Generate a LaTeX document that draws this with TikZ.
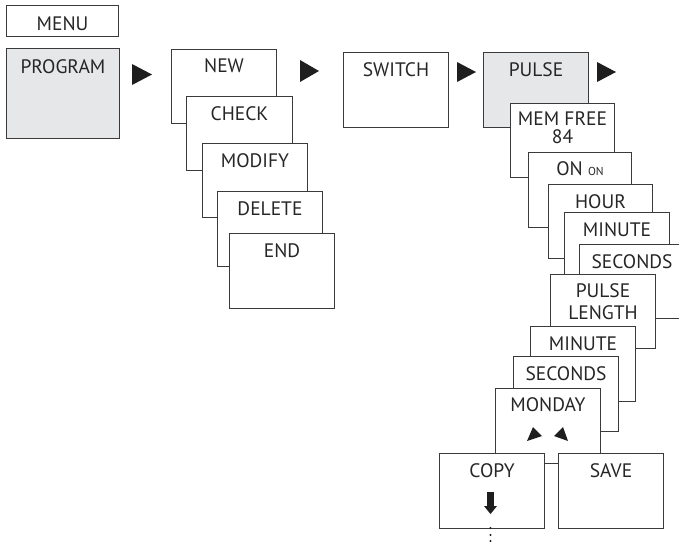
\documentclass[tikz,border=0pt]{standalone}
\usepackage{fontspec}
\setmainfont{PT Sans}
\definecolor{linec}{HTML}{3A3A3A}
\definecolor{grayfill}{HTML}{E6E7E8}
\definecolor{markc}{HTML}{1E1E1E}
\begin{document}
\begin{tikzpicture}[x=1pt,y=-1pt,
  box/.style={draw=linec, line width=1pt, fill=white, anchor=north west, inner sep=0pt,
    minimum width=105pt, minimum height=75pt},
  graybox/.style={box, fill=grayfill},
  lbl/.style={anchor=base, inner sep=0pt, font=\fontsize{19.5}{21}\selectfont, text=black!85},
  markfill/.style={fill=markc, draw=none}]
\useasboundingbox (0,0) rectangle (679,542);
\clip (0,0) rectangle (679,542);
% left column
\node[box, minimum width=112pt, minimum height=31pt] (menu) at (6,5) {};
\node[lbl] (menu-t) at ([yshift=-25pt]menu.north) {MENU};
\node[graybox, minimum width=113pt, minimum height=90pt] (program) at (6,48) {};
\node[lbl] (program-t) at ([yshift=-25pt]program.north) {PROGRAM};
% arrow 1
\coordinate (t1) at (132,64);
\fill[markfill] (t1) -- ++(20,10.5) -- ++(-20,10.5) -- cycle;
% stack 1
\node[box, minimum height=74pt] (new) at (171,49) {};
\node[lbl] (new-t) at ([yshift=-23.5pt]new.north) {NEW};
\node[box, minimum width=106pt, minimum height=74pt] (check) at (186,96) {};
\node[lbl] (check-t) at ([yshift=-24pt]check.north) {CHECK};
\node[box, minimum height=74pt] (modify) at (202,143) {};
\node[lbl] (modify-t) at ([yshift=-24pt]modify.north) {MODIFY};
\node[box] (delete) at (217,191) {};
\node[lbl] (delete-t) at ([yshift=-24pt]delete.north) {DELETE};
\node[box] (end) at (229,233) {};
\node[lbl] (end-t) at ([yshift=-24pt]end.north) {END};
% arrow 2
\coordinate (t2) at (300,60);
\fill[markfill] (t2) -- ++(19,11) -- ++(-19,11) -- cycle;
\node[box] (switch) at (343,52) {};
\node[lbl] (switch-t) at ([yshift=-24pt]switch.north) {SWITCH};
% arrow 3
\coordinate (t3) at (457,62);
\fill[markfill] (t3) -- ++(19,10) -- ++(-19,10) -- cycle;
\node[graybox] (pulse) at (483,52) {};
\node[lbl] (pulse-t) at ([yshift=-24pt]pulse.north) {PULSE};
% arrow 4
\coordinate (t4) at (597,62);
\fill[markfill] (t4) -- ++(19,10) -- ++(-19,10) -- cycle;
% stack 2
\node[box, minimum width=104pt, minimum height=74pt] (memfree) at (510,103) {};
\node[lbl] (memfree-t) at ([yshift=-22pt]memfree.north) {MEM FREE};
\node[lbl] (memfree-n) at ([yshift=-40pt]memfree.north) {84};
\node[box, minimum width=103pt] (on) at (528,152) {};
\node[lbl] (on-t) at ([yshift=-23pt]on.north) {ON {\fontsize{11.5}{12}\selectfont ON}};
\node[box, minimum width=104pt, minimum height=74pt] (hour) at (548,184) {};
\node[lbl] (hour-t) at ([yshift=-24pt]hour.north) {HOUR};
\node[box] (minute1) at (564,212) {};
\node[lbl] (minute1-t) at ([yshift=-24pt]minute1.north) {MINUTE};
\node[box, minimum height=74pt] (seconds1) at (579,244) {};
\node[lbl] (seconds1-t) at ([yshift=-24pt]seconds1.north) {SECONDS};
\node[box, minimum height=74pt] (plength) at (550,274) {};
\node[lbl] (plength-t) at ([yshift=-23pt]plength.north) {PULSE};
\node[lbl] (plength-l) at ([yshift=-45pt]plength.north) {LENGTH};
\node[box] (minute2) at (530,326) {};
\node[lbl] (minute2-t) at ([yshift=-24pt]minute2.north) {MINUTE};
\node[box] (seconds2) at (513,356) {};
\node[lbl] (seconds2-t) at ([yshift=-24pt]seconds2.north) {SECONDS};
\node[box] (monday) at (495,388) {};
\node[lbl] (monday-t) at ([yshift=-23pt]monday.north) {MONDAY};
\fill[markfill] (533,427) -- (527,441) -- (542,436) -- cycle;
\fill[markfill] (563,427) -- (568,441) -- (554,436) -- cycle;
\node[box] (copy) at (439,453) {};
\node[lbl] (copy-t) at ([yshift=-24pt]copy.north) {COPY};
\node[box] (save) at (558,453) {};
\node[lbl] (save-t) at ([yshift=-24pt]save.north) {SAVE};
% down arrow and dots
\fill[markfill] (487,492) rectangle (494,507);
\fill[markfill] (484,506) -- (497,506) -- (490.5,514) -- cycle;
\fill[markfill] (490.5,528) circle (1.1pt);
\fill[markfill] (490.5,535) circle (1.1pt);
\fill[markfill] (490.5,541) circle (1.1pt);
\end{tikzpicture}
\end{document}
